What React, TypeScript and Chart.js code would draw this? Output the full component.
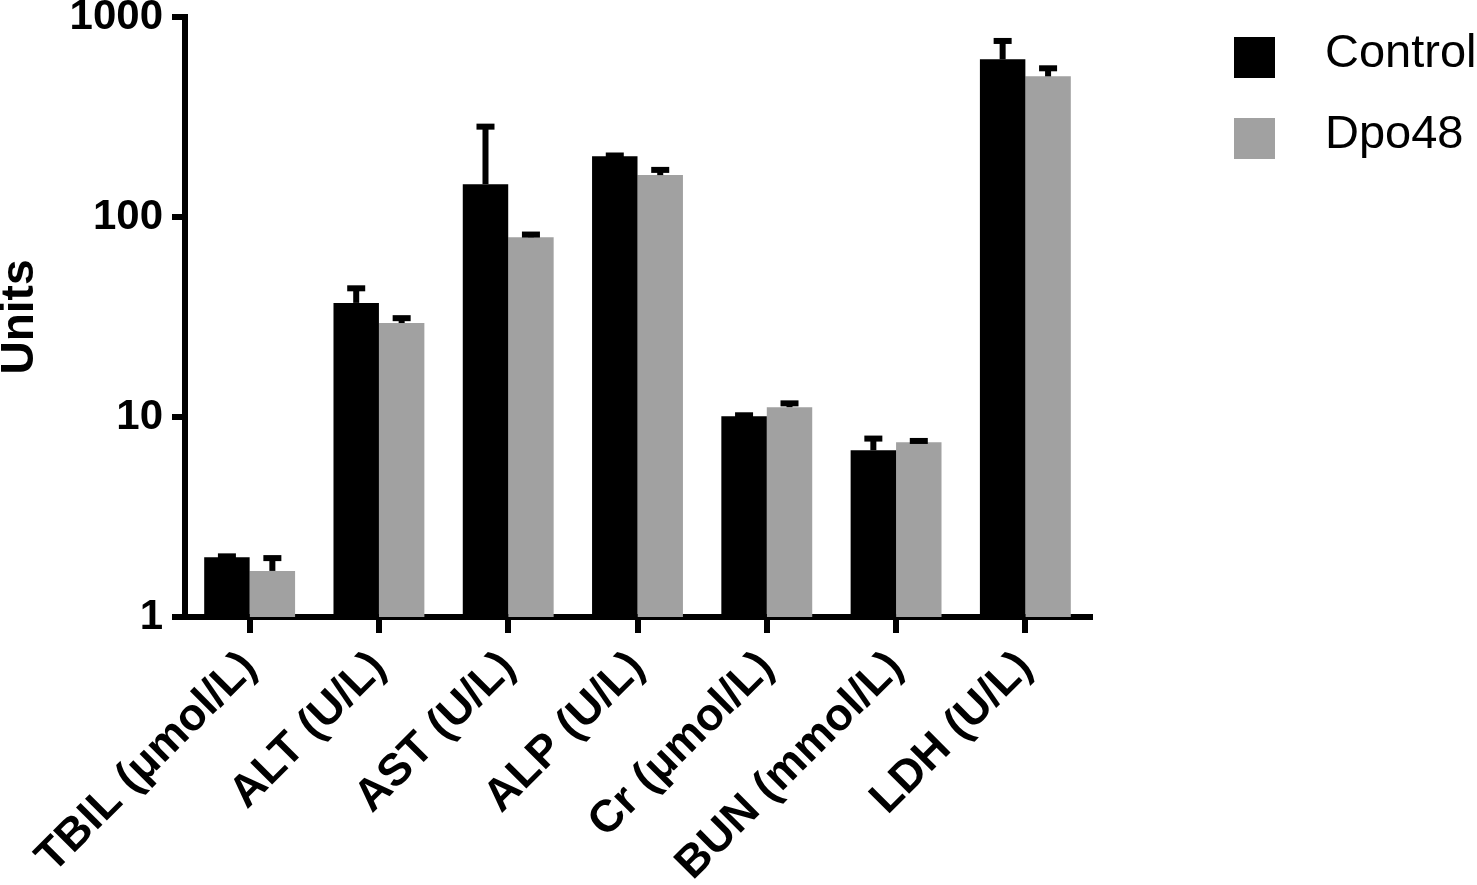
import React, { useEffect, useRef } from "react";
import { Chart, registerables } from "chart.js";

Chart.register(...registerables);

const categories = ["TBIL (μmol/L)", "ALT (U/L)", "AST (U/L)", "ALP (U/L)", "Cr (μmol/L)", "BUN (mmol/L)", "LDH (U/L)"];
const seriesNames = ["Control", "Dpo48"];
const seriesColors = ["#000000", "#a1a1a1"];
const controlMeans = [1.99, 37.2, 146, 201, 10.1, 6.82, 614];
const controlErrors = [0.02, 6.8, 137, 2, 0.1, 0.98, 145];
const dpo48Means = [1.7, 29.5, 79.2, 162, 11.2, 7.47, 505];
const dpo48Errors = [0.27, 1.7, 2.5, 10, 0.5, 0.12, 49];
const yTicks = [1, 10, 100, 1000];
const yTitle = "Units";

const FONT = "'Liberation Sans', Arial, Helvetica, sans-serif";

const errorBarPlugin = {
  id: "errorBars",
  afterDatasetsDraw(chart: any) {
    const ctx = chart.ctx;
    const yScale = chart.scales.y;
    chart.data.datasets.forEach((ds: any, i: number) => {
      const meta = chart.getDatasetMeta(i);
      meta.data.forEach((bar: any, j: number) => {
        const top = yScale.getPixelForValue(ds.data[j] + ds.errors[j]);
        ctx.save();
        ctx.fillStyle = "#000";
        if (bar.y - top > 0) ctx.fillRect(bar.x - 3, top, 6, bar.y - top);
        ctx.fillRect(bar.x - 9, top - 3, 18, 6);
        ctx.restore();
      });
    });
  },
};

const sideLegendPlugin = {
  id: "sideLegend",
  afterDraw(chart: any) {
    const ctx = chart.ctx;
    const area = chart.chartArea;
    const x0 = area.right + 144;
    chart.data.datasets.forEach((ds: any, i: number) => {
      const yTop = 37 + i * 81;
      ctx.save();
      ctx.fillStyle = ds.backgroundColor;
      ctx.fillRect(x0, yTop, 41, 41);
      ctx.fillStyle = "#000";
      ctx.font = `47px ${FONT}`;
      ctx.textBaseline = "alphabetic";
      ctx.textAlign = "left";
      ctx.fillText(ds.label, x0 + 91, yTop + 30);
      ctx.restore();
    });
  },
};

export default function App() {
  const canvasRef = useRef<HTMLCanvasElement | null>(null);

  useEffect(() => {
    if (!canvasRef.current) return;
    const chart = new Chart(canvasRef.current, {
      type: "bar",
      data: {
        labels: categories,
        datasets: [
          {
            label: seriesNames[0],
            data: controlMeans,
            errors: controlErrors,
            backgroundColor: seriesColors[0],
            borderWidth: 0,
          } as any,
          {
            label: seriesNames[1],
            data: dpo48Means,
            errors: dpo48Errors,
            backgroundColor: seriesColors[1],
            borderWidth: 0,
          } as any,
        ],
      },
      options: {
        responsive: false,
        animation: false,
        layout: { padding: { top: 17, right: 387, left: 0, bottom: 0 } },
        datasets: { bar: { categoryPercentage: 0.703, barPercentage: 1.0 } },
        plugins: { legend: { display: false }, tooltip: { enabled: false } },
        scales: {
          x: {
            type: "category",
            offset: true,
            grid: {
              offset: false,
              drawOnChartArea: false,
              drawTicks: true,
              tickLength: 16,
              lineWidth: 6,
              color: "#000",
            },
            border: { display: true, width: 6, color: "#000" },
            ticks: {
              autoSkip: false,
              minRotation: 45,
              maxRotation: 45,
              padding: 8,
              color: "#000",
              font: { family: FONT, size: 45, weight: "bold" },
            },
            afterFit: (s: any) => {
              s.height = 268;
              s.paddingLeft = 0;
              s.paddingRight = 0;
            },
          },
          y: {
            type: "logarithmic",
            min: 1,
            max: 1000,
            afterBuildTicks: (s: any) => {
              s.ticks = yTicks.map((v) => ({ value: v }));
            },
            grid: {
              drawOnChartArea: false,
              drawTicks: true,
              tickLength: 13,
              lineWidth: 6,
              color: "#000",
            },
            border: { display: true, width: 6, color: "#000" },
            ticks: {
              padding: 9,
              color: "#000",
              font: { family: FONT, size: 42, weight: "bold" },
              callback: (v: any) => String(v),
            },
            title: {
              display: true,
              text: yTitle,
              color: "#000",
              font: { family: FONT, size: 46, weight: "bold", lineHeight: 0.9 },
              padding: 0,
            },
            afterFit: (s: any) => {
              s.width = 185;
              s.paddingTop = 0;
              s.paddingBottom = 0;
            },
          },
        },
      } as any,
      plugins: [errorBarPlugin, sideLegendPlugin],
    });
    return () => chart.destroy();
  }, []);

  return (
    <div style={{ position: "absolute", left: 0, top: 0, width: 1477, height: 885, background: "#fff" }}>
      <canvas ref={canvasRef} width={1477} height={885} style={{ display: "block" }} />
    </div>
  );
}
